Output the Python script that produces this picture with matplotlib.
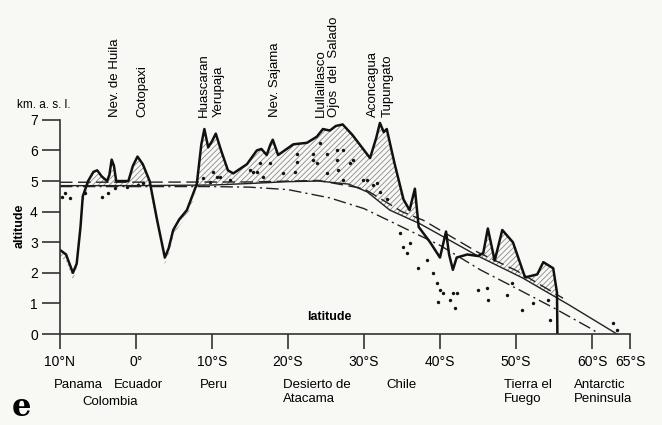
"""
Andes altitude profile with snow line estimates
"""

import numpy as np
import matplotlib
matplotlib.use('Agg')
from matplotlib import pyplot as plt

# latitude given as degrees south (negative = north)
profile_lat = [-10, -9.2, -8.3, -7.8, -7.3, -7.0, -6.3, -5.6, -5.1, -4.5, -3.8, -3.5,
               -3.2, -2.9, -2.6, -1.0, -0.4, 0.2, 0.9, 1.8, 2.8, 3.8, 4.3, 4.9, 5.7,
               6.7, 8.0, 8.6, 9.0, 9.5, 10.0, 10.5, 11.2, 12.1, 12.8, 14.6, 15.9,
               16.5, 17.2, 17.7, 18.0, 18.5, 18.7, 20.7, 22.5, 23.8, 24.6, 25.5, 26.3,
               27.2, 28.5, 30.8, 31.6, 32.1, 32.6, 33.0, 34.0, 35.2, 36.0, 36.7, 37.2,
               38.7, 40.0, 40.8, 41.2, 41.7, 42.2, 43.6, 45.0, 45.7, 46.3, 47.2, 48.2,
               49.6, 51.2, 52.8, 53.6, 54.9, 55.4, 55.45]
profile_alt = [2.75, 2.6, 2.0, 2.3, 3.5, 4.5, 5.0, 5.3, 5.35, 5.15, 5.0, 5.2,
               5.7, 5.5, 5.0, 5.0, 5.5, 5.8, 5.55, 5.0, 3.7, 2.5, 2.8, 3.4, 3.75,
               4.05, 4.9, 6.2, 6.7, 6.1, 6.3, 6.55, 6.0, 5.35, 5.25, 5.55, 6.0,
               6.05, 5.85, 6.2, 6.35, 6.0, 5.85, 6.2, 6.25, 6.45, 6.7, 6.65, 6.8,
               6.85, 6.5, 5.75, 6.4, 6.9, 6.6, 6.7, 5.6, 4.4, 4.05, 4.75, 3.5,
               3.0, 2.5, 3.35, 2.6, 2.1, 2.5, 2.6, 2.55, 2.65, 3.45, 2.4, 3.4,
               3.0, 1.85, 1.95, 2.35, 2.15, 1.35, 0.0]

snow_lat = [-10, 0, 10, 15, 20, 24, 28, 30.4, 33.4, 37.4, 45, 50.9, 57, 63.3]
snow_alt = [4.85, 4.85, 4.87, 4.92, 4.98, 5.0, 4.9, 4.65, 4.05, 3.6, 2.55, 1.83, 0.95, 0.0]

dash_lat = [-10, 15, 24, 30, 35, 37.8, 45, 50, 56.2]
dash_alt = [4.96, 4.97, 5.02, 4.75, 4.0, 3.72, 2.67, 2.08, 1.17]

dashdot_lat = [-10, 10, 15, 20, 25.5, 30, 34, 40, 45.3, 50, 55, 59.7, 61]
dashdot_alt = [4.82, 4.82, 4.8, 4.72, 4.45, 4.1, 3.62, 2.9, 2.1, 1.5, 0.85, 0.2, 0.0]

# scattered small points (lakes / minor glaciers)
dots_lat = [-9.7, -9.3, -8.7, -6.7, -4.5, -3.7, -2.8, -1.2, 0.3, 0.9, 8.8, 9.7, 10.1,
            10.7, 11.1, 12.4, 15.0, 15.4, 15.9, 16.3, 16.7, 17.6, 19.3, 20.9, 21.2,
            21.2, 23.3, 23.3, 23.8, 24.2, 25.1, 25.1, 26.4, 26.4, 26.6, 27.2, 27.2,
            28.2, 28.6, 29.9, 30.4, 31.2, 31.7, 32.1, 33.0, 34.7, 35.1, 35.7, 36.0,
            37.1, 38.3, 39.1, 39.6, 39.7, 40.0, 40.4, 41.3, 41.7, 42.0, 42.2, 45.0,
            46.2, 46.3, 48.8, 49.5, 50.8, 52.2, 54.2, 54.5, 62.8, 63.3]
dots_alt = [4.47, 4.6, 4.45, 4.6, 4.47, 4.6, 4.77, 4.8, 4.87, 4.93, 5.1, 4.97, 5.3,
            5.13, 5.13, 5.03, 5.36, 5.3, 5.3, 5.58, 5.13, 5.58, 5.26, 5.3, 5.9,
            5.62, 5.9, 5.69, 5.58, 6.24, 5.9, 5.26, 6.0, 5.69, 5.36, 6.0, 5.03,
            5.6, 5.69, 5.03, 5.03, 4.87, 4.93, 4.65, 4.4, 3.3, 2.85, 2.65, 2.97,
            2.16, 2.42, 2.0, 1.67, 1.05, 1.44, 1.34, 1.11, 1.34, 0.85, 1.34, 1.44,
            1.5, 1.11, 1.27, 1.67, 0.78, 1.0, 1.1, 0.46, 0.36, 0.13]

tick_lat = [-10, 0, 10, 20, 30, 40, 50, 60, 65]
tick_labels = ['10°N', '0°', '10°S', '20°S', '30°S', '40°S', '50°S', '60°S', '65°S']

peaks = ['Nev. de Huila', 'Cotopaxi', 'Huascaran', 'Yerupaja', 'Nev. Sajama',
         'Llullaillasco', 'Ojos  del  Salado', 'Aconcagua', 'Tupungato']
peak_lat = [-2.8, 0.8, 9.0, 10.9, 18.3, 24.3, 26.1, 31.2, 33.1]

regions = ['Panama', 'Ecuador', 'Colombia', 'Peru', 'Desierto de\nAtacama', 'Chile',
           'Tierra el\nFuego', 'Antarctic\nPeninsula']
region_lat = [-7.6, 0.3, -3.4, 10.2, 19.3, 35.0, 48.4, 57.6]
region_row = [0, 0, 1, 0, 0, 0, 0, 0]
region_ha = ['center', 'center', 'center', 'center', 'left', 'center', 'left', 'left']

plt.rcParams['font.family'] = ['Liberation Sans', 'DejaVu Sans']
plt.rcParams['hatch.linewidth'] = 0.6
plt.rcParams['hatch.color'] = '#8a8a8a'

bg = '#f8f8f5'
fig = plt.figure(figsize=(6.62, 4.25), dpi=100, facecolor=bg)
ax = fig.add_axes([0.0906, 0.214, 0.861, 0.504], facecolor=bg)

p_lat = np.array(profile_lat)
p_alt = np.array(profile_alt)
snow_at = np.interp(p_lat, snow_lat, snow_alt)

# hatched area between peaks and snow line
ax.fill_between(p_lat, snow_at, p_alt, where=p_alt > snow_at, interpolate=True,
                facecolor='none', edgecolor='#8a8a8a', hatch='//////', linewidth=0)
# thin hatched band on the low side of the valleys in the north
low = (p_alt < snow_at) & (p_lat < 9)
ax.fill_between(p_lat, p_alt - 0.22, p_alt, where=low, interpolate=True,
                facecolor='none', edgecolor='#8a8a8a', hatch='//////', linewidth=0)

ax.plot(snow_lat, snow_alt, color='#222', lw=1.0)
ax.plot(dash_lat, dash_alt, color='#222', lw=1.0, dashes=(9, 4))
ax.plot(dashdot_lat, dashdot_alt, color='#222', lw=1.0, dashes=(9, 3, 1.5, 3))
ax.plot(profile_lat, profile_alt, color='#111', lw=1.8, solid_joinstyle='round')
ax.scatter(dots_lat, dots_alt, s=6, color='#111', linewidths=0)

ax.set_xlim(-10, 65)
ax.set_ylim(0, 7)
ax.spines['top'].set_visible(False)
ax.spines['right'].set_visible(False)
for sp in ['left', 'bottom']:
    ax.spines[sp].set_color('#333')
    ax.spines[sp].set_linewidth(1.2)

ax.set_yticks(range(8))
ax.tick_params(axis='y', length=13, width=1.2, color='#333', labelsize=10, pad=3)
ax.set_xticks(tick_lat)
ax.set_xticklabels(tick_labels)
ax.tick_params(axis='x', length=11, width=1.2, color='#333', labelsize=10, pad=4)

ax.text(-12.1, 7.47, 'km. a. s. l.', ha='center', va='center', fontsize=8.5)
ax.text(-15.3, 3.55, 'altitude', ha='center', va='center', rotation=90,
        fontsize=9, fontweight='bold')
ax.text(25.5, 0.55, 'latitude', ha='center', va='center', fontsize=9, fontweight='bold')

for name, lat in zip(peaks, peak_lat):
    ax.text(lat, 7.1, name, rotation=90, ha='center', va='bottom', fontsize=9.5,
            clip_on=False)

for name, lat, row, ha in zip(regions, region_lat, region_row, region_ha):
    ax.text(lat, -1.48 - 0.55 * row, name, ha=ha, va='top', fontsize=9.5,
            linespacing=1.2, clip_on=False)

fig.text(0.018, 0.02, 'e', fontsize=22, fontweight='bold', family='DejaVu Serif')

plt.savefig('out.png', dpi=100, facecolor=bg)
